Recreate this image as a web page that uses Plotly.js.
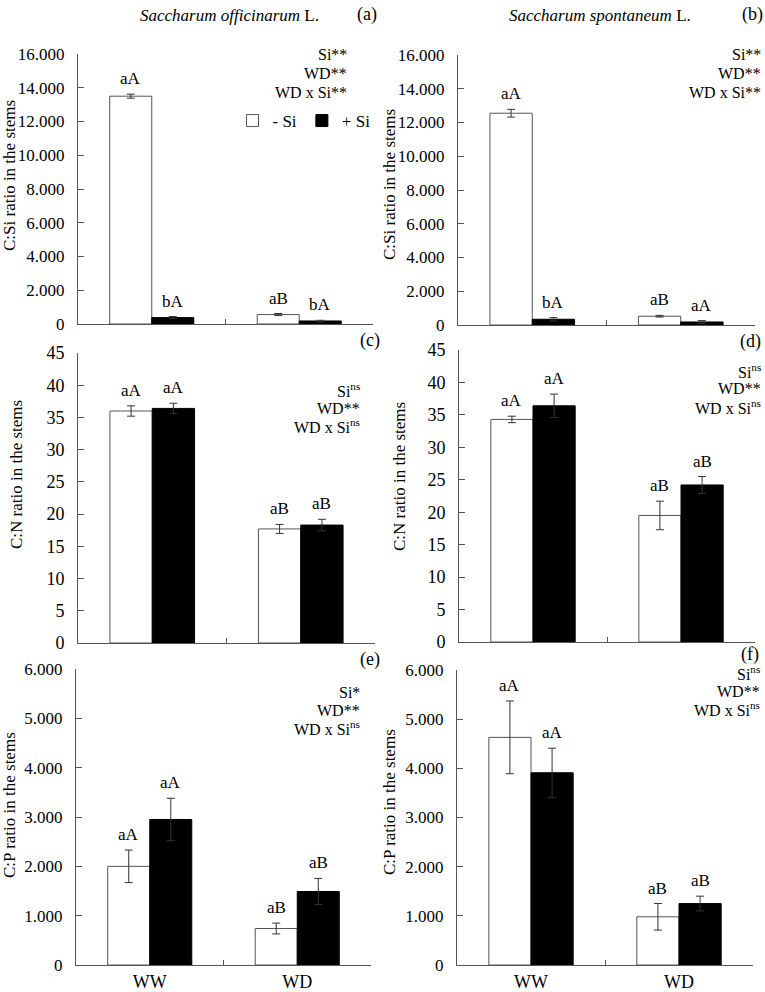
<!DOCTYPE html>
<html><head><meta charset="utf-8">
<script src="https://cdn.plot.ly/plotly-3.0.1.min.js"></script>
<style>html,body{margin:0;padding:0;background:#fff}</style>
</head><body><div id="chart" style="width:765px;height:992px"></div>
<script>
// ---------- DATA ----------
const categories = ["WW", "WD"];
const seriesNames = ["- Si", "+ Si"];

// (a) C:Si ratio, Saccharum officinarum
const csiOffMinus = [13500, 560];
const csiOffMinusErr = [120, 60];
const csiOffPlus = [380, 180];
const csiOffPlusErr = [60, 40];
// (b) C:Si ratio, Saccharum spontaneum
const csiSpoMinus = [12550, 520];
const csiSpoMinusErr = [230, 50];
const csiSpoPlus = [340, 180];
const csiSpoPlusErr = [100, 80];
// (c) C:N ratio, S. officinarum
const cnOffMinus = [36.0, 17.7];
const cnOffMinusErr = [0.8, 0.7];
const cnOffPlus = [36.4, 18.3];
const cnOffPlusErr = [0.8, 0.9];
// (d) C:N ratio, S. spontaneum
const cnSpoMinus = [34.3, 19.5];
const cnSpoMinusErr = [0.5, 2.2];
const cnSpoPlus = [36.4, 24.2];
const cnSpoPlusErr = [1.8, 1.3];
// (e) C:P ratio, S. officinarum
const cpOffMinus = [2000, 740];
const cpOffMinusErr = [330, 110];
const cpOffPlus = [2950, 1490];
const cpOffPlusErr = [430, 265];
// (f) C:P ratio, S. spontaneum
const cpSpoMinus = [4630, 980];
const cpSpoMinusErr = [740, 270];
const cpSpoPlus = [3910, 1250];
const cpSpoPlusErr = [500, 150];

// letters above bars
const lettersAMinus = ["aA", "aB"], lettersAPlus = ["bA", "bA"];
const lettersBMinus = ["aA", "aB"], lettersBPlus = ["bA", "aA"];
const lettersCMinus = ["aA", "aB"], lettersCPlus = ["aA", "aB"];
const lettersDMinus = ["aA", "aB"], lettersDPlus = ["aA", "aB"];
const lettersEMinus = ["aA", "aB"], lettersEPlus = ["aA", "aB"];
const lettersFMinus = ["aA", "aB"], lettersFPlus = ["aA", "aB"];

// significance texts
const sigA = ["Si**", "WD**", "WD x Si**"];
const sigB = ["Si**", "WD**", "WD x Si**"];
const sigC = ["Si<sup>ns</sup>", "WD**", "WD x Si<sup>ns</sup>"];
const sigD = ["Si<sup>ns</sup>", "WD**", "WD x Si<sup>ns</sup>"];
const sigE = ["Si*", "WD**", "WD x Si<sup>ns</sup>"];
const sigF = ["Si<sup>ns</sup>", "WD**", "WD x Si<sup>ns</sup>"];

const yTitles = ["C:Si ratio in the stems", "C:N ratio in the stems", "C:P ratio in the stems"];
const speciesTitles = ["<i>Saccharum officinarum</i> L.", "<i>Saccharum spontaneum</i> L."];
const panelLabels = ["(a)", "(b)", "(c)", "(d)", "(e)", "(f)"];

// ---------- LAYOUT HELPERS ----------
const W = 765, H = 992;
const px = x => x / W;
const py = y => 1 - y / H;
const FONT = "Liberation Serif, Times New Roman, DejaVu Serif, serif";
const BARGAP = 0.43;
const OFF = (1 - BARGAP) / 4;

const panels = [
  {minus: csiOffMinus, minusErr: csiOffMinusErr, plus: csiOffPlus, plusErr: csiOffPlusErr,
   lm: lettersAMinus, lp: lettersAPlus, sig: sigA, title: yTitles[0],
   xd: [78, 373], yd: [54, 324], range: [0, 16000], dtick: 2000, fmt: ",d", tf: 17,
   sigX: 349, sigY: [54, 73, 92], titleX: 9, titleY: 176, lab: [367, 14]},
  {minus: csiSpoMinus, minusErr: csiSpoMinusErr, plus: csiSpoPlus, plusErr: csiSpoPlusErr,
   lm: lettersBMinus, lp: lettersBPlus, sig: sigB, title: yTitles[0],
   xd: [458, 755], yd: [55, 325], range: [0, 16000], dtick: 2000, fmt: ",d", tf: 17,
   sigX: 763, sigY: [54, 73, 92], titleX: 389, titleY: 185, lab: [752, 14]},
  {minus: cnOffMinus, minusErr: cnOffMinusErr, plus: cnOffPlus, plusErr: cnOffPlusErr,
   lm: lettersCMinus, lp: lettersCPlus, sig: sigC, title: yTitles[1],
   xd: [78, 375], yd: [353, 643], range: [0, 45], dtick: 5, fmt: "", tf: 18,
   sigX: 362, sigY: [390, 408, 426], titleX: 17, titleY: 475, lab: [370, 340]},
  {minus: cnSpoMinus, minusErr: cnSpoMinusErr, plus: cnSpoPlus, plusErr: cnSpoPlusErr,
   lm: lettersDMinus, lp: lettersDPlus, sig: sigD, title: yTitles[1],
   xd: [459, 755], yd: [350, 642], range: [0, 45], dtick: 5, fmt: "", tf: 18,
   sigX: 763, sigY: [371, 389, 407], titleX: 399, titleY: 477, lab: [750, 341]},
  {minus: cpOffMinus, minusErr: cpOffMinusErr, plus: cpOffPlus, plusErr: cpOffPlusErr,
   lm: lettersEMinus, lp: lettersEPlus, sig: sigE, title: yTitles[2],
   xd: [76, 371], yd: [669, 965], range: [0, 6000], dtick: 1000, fmt: ",d", tf: 17,
   sigX: 362, sigY: [692, 710, 728], titleX: 9, titleY: 805, lab: [370, 659]},
  {minus: cpSpoMinus, minusErr: cpSpoMinusErr, plus: cpSpoPlus, plusErr: cpSpoPlusErr,
   lm: lettersFMinus, lp: lettersFPlus, sig: sigF, title: yTitles[2],
   xd: [457, 753], yd: [670, 965], range: [0, 6000], dtick: 1000, fmt: ",d", tf: 17,
   sigX: 762, sigY: [673, 691, 709], titleX: 389, titleY: 802, lab: [750, 654]}
];

const data = [];
const annotations = [];
const layout = {
  width: W, height: H,
  margin: {l: 0, r: 0, t: 0, b: 0},
  paper_bgcolor: "#fff", plot_bgcolor: "#fff",
  barmode: "group", bargap: BARGAP, bargroupgap: 0,
  separators: ",.",
  font: {family: FONT, color: "#000", size: 17},
  showlegend: true,
  legend: {orientation: "h", x: px(304), xanchor: "center", y: py(121), yanchor: "middle",
           font: {family: FONT, size: 17, color: "#000"}, bgcolor: "rgba(0,0,0,0)",
           itemwidth: 30, tracegroupgap: 0},
  annotations: annotations
};

panels.forEach((p, i) => {
  const n = i === 0 ? "" : String(i + 1);
  const xa = "x" + n, ya = "y" + n;
  data.push({
    type: "bar", name: seriesNames[0], x: categories, y: p.minus, xaxis: xa, yaxis: ya,
    marker: {color: "#fff", line: {color: "#555", width: 1}},
    error_y: {type: "data", array: p.minusErr, visible: true, color: "#333", thickness: 1, width: 4},
    showlegend: i === 0, legendgroup: "minus", hoverinfo: "skip"
  });
  data.push({
    type: "bar", name: seriesNames[1], x: categories, y: p.plus, xaxis: xa, yaxis: ya,
    marker: {color: "#000", line: {color: "#000", width: 1}},
    error_y: {type: "data", array: p.plusErr, visible: true, color: "#333", thickness: 1, width: 4},
    showlegend: i === 0, legendgroup: "plus", hoverinfo: "skip"
  });
  const bottomRow = i >= 4;
  layout["xaxis" + n] = {
    domain: [px(p.xd[0]), px(p.xd[1])], anchor: ya,
    type: "category", categoryorder: "array", categoryarray: categories, range: [-0.5, 1.5],
    showline: true, linecolor: "#555", linewidth: 1,
    ticks: "inside", tickson: "boundaries", ticklen: 5, tickcolor: "#555",
    showgrid: false, zeroline: false, showticklabels: bottomRow,
    tickfont: {family: FONT, size: 18, color: "#000"}, ticklabelstandoff: 0
  };
  layout["yaxis" + n] = {
    domain: [py(p.yd[1]), py(p.yd[0])], anchor: xa,
    range: p.range, dtick: p.dtick, tick0: 0, tickformat: p.fmt,
    showline: true, linecolor: "#555", linewidth: 1,
    ticks: "inside", ticklen: 6, tickcolor: "#555",
    showgrid: false, zeroline: false,
    tickfont: {family: FONT, size: p.tf, color: "#000"}, ticklabelstandoff: 9
  };
  // letters
  [[p.minus, p.minusErr, p.lm, -OFF], [p.plus, p.plusErr, p.lp, OFF]].forEach(([v, e, l, o]) => {
    v.forEach((val, k) => {
      annotations.push({xref: xa, yref: ya, x: k + o, y: val + e[k], text: l[k],
        showarrow: false, xanchor: "center", yanchor: "bottom", yshift: 4,
        font: {family: FONT, size: 17, color: "#000"}});
    });
  });
  // significance
  p.sig.forEach((t, k) => {
    annotations.push({xref: "paper", yref: "paper", x: px(p.sigX), y: py(p.sigY[k]), text: t,
      showarrow: false, xanchor: "right", yanchor: "middle",
      font: {family: FONT, size: 16, color: "#000"}});
  });
  // y title
  annotations.push({xref: "paper", yref: "paper", x: px(p.titleX), y: py(p.titleY), text: p.title,
    textangle: -90, showarrow: false, xanchor: "center", yanchor: "middle",
    font: {family: FONT, size: 17, color: "#000"}});
  // panel label
  annotations.push({xref: "paper", yref: "paper", x: px(p.lab[0]), y: py(p.lab[1]), text: panelLabels[i],
    showarrow: false, xanchor: "center", yanchor: "middle",
    font: {family: FONT, size: 18, color: "#000"}});
});

// species titles
[[229, speciesTitles[0]], [600, speciesTitles[1]]].forEach(([x, t]) => {
  annotations.push({xref: "paper", yref: "paper", x: px(x), y: py(15), text: t,
    showarrow: false, xanchor: "center", yanchor: "middle",
    font: {family: FONT, size: 17, color: "#000"}});
});

Plotly.newPlot("chart", data, layout, {displayModeBar: false, staticPlot: true});
</script>
</body></html>
